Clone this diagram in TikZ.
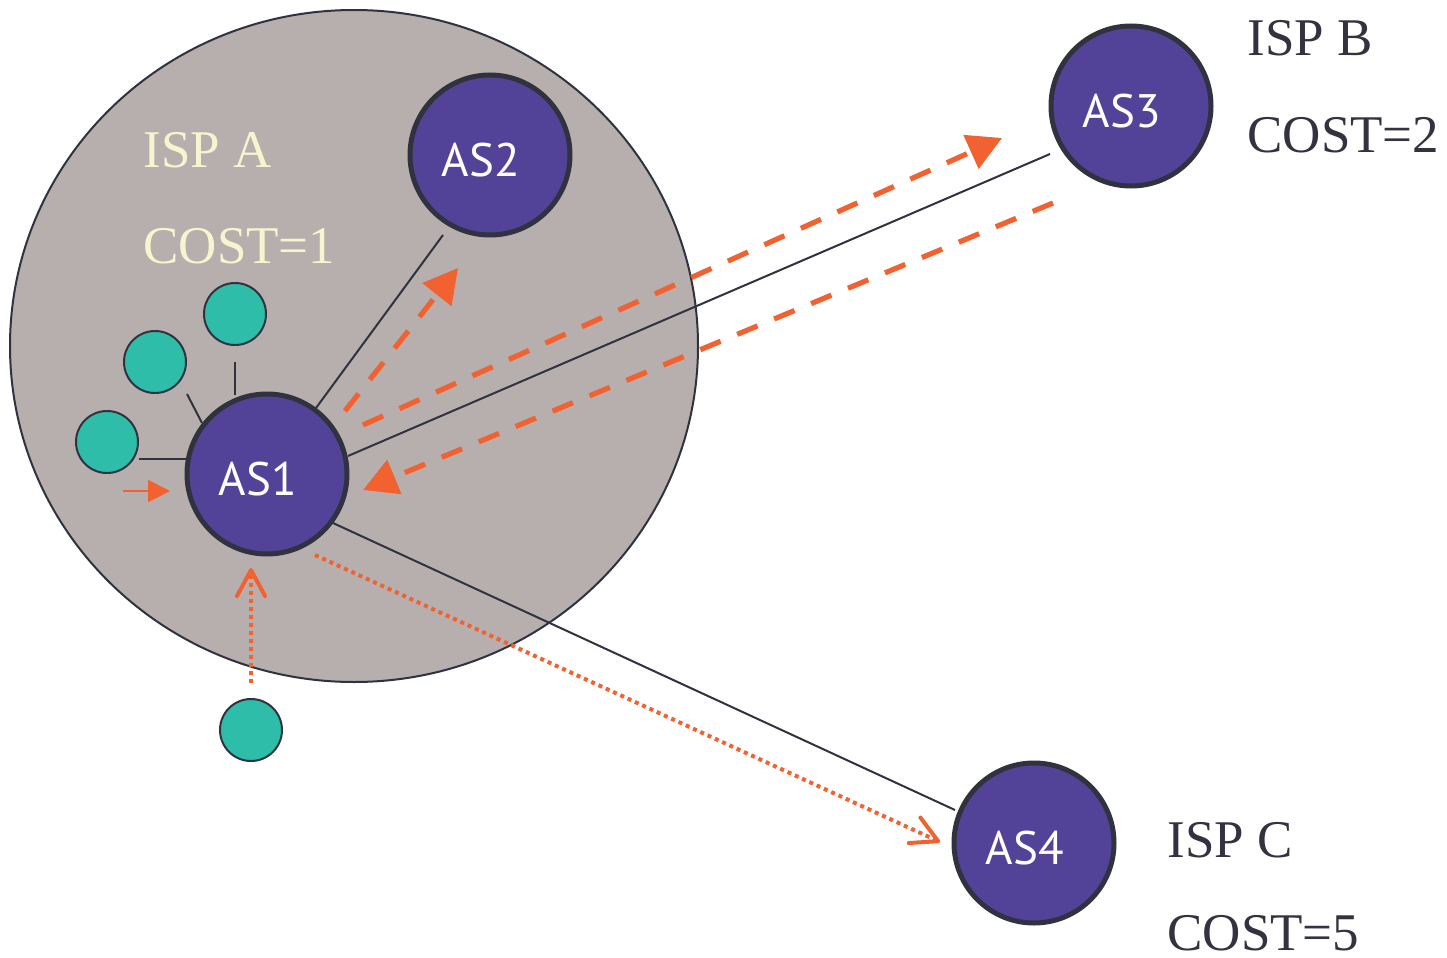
\documentclass[tikz,border=0pt]{standalone}
\usepackage{fontspec}
\setmainfont{Liberation Serif}
\newfontfamily\asfont{PT Sans}
\usetikzlibrary{arrows.meta}
\definecolor{ispgray}{HTML}{B7AFAD}
\definecolor{aspurple}{HTML}{524399}
\definecolor{asborder}{HTML}{30333F}
\definecolor{hostteal}{HTML}{2DBDA8}
\definecolor{arrorange}{HTML}{F26130}
\definecolor{creamtext}{HTML}{F5F5D0}
\definecolor{darktext}{HTML}{333340}
\begin{document}
\begin{tikzpicture}[x=0.5pt,y=-0.5pt,
  aslabel/.style={text=white,font=\asfont\fontsize{23.5}{23.5}\selectfont,xshift=-4.5pt,yshift=-2.5pt,inner sep=0pt},
  asnode/.style={circle,draw=asborder,line width=2.5pt,fill=aspurple,minimum size=80pt,inner sep=0pt,label={[aslabel]center:#1}},
  host/.style={circle,draw=asborder,line width=1pt,fill=hostteal,minimum size=31pt,inner sep=0pt},
  link/.style={draw=asborder,line width=1pt},
  dasharrow/.style={draw=arrorange,line width=2.6pt,dash pattern=on 11pt off 9pt,-{Triangle[length=17pt,width=18pt]}},
  dotarrow/.style={draw=arrorange,line width=2pt,dash pattern=on 2pt off 2pt,-{Straight Barb[length=13pt,width=14pt,round]}},
  smallarrow/.style={draw=arrorange,line width=1pt,-{Triangle[length=11pt,width=11pt]}},
  isplabel/.style={anchor=base west,font=\fontsize{26.5}{26.5}\selectfont,inner sep=0pt}
]
\useasboundingbox (0,0) rectangle (1447,958);
\fill[white] (0,0) rectangle (1447,958);

% ISP A region
\draw[draw=asborder,line width=1pt,fill=ispgray] (354,346) ellipse [x radius=172pt,y radius=168pt];

% AS nodes
\node[asnode=AS1] (AS1) at (267,474) {};
\node[asnode=AS2] (AS2) at (490,155) {};
\node[asnode=AS3] (AS3) at (1131,106) {};
\node[asnode=AS4] (AS4) at (1034,843) {};

% hosts
\node[host] (h1) at (235,314) {};
\node[host] (h2) at (155,362) {};
\node[host] (h3) at (107,442) {};
\node[host] (h4) at (251,730) {};

% link end points
\coordinate (h1a) at (235,362); \coordinate (h1b) at (235,395);
\coordinate (h2a) at (187,394); \coordinate (h2b) at (202,423);
\coordinate (h3a) at (139,459); \coordinate (h3b) at (186,459);
\coordinate (l12a) at (316,408); \coordinate (l12b) at (443,235);
\coordinate (l13a) at (348,456); \coordinate (l13b) at (1050,154);
\coordinate (l14a) at (333,523); \coordinate (l14b) at (955,810);

\draw[link] (h1a) -- (h1b);
\draw[link] (h2a) -- (h2b);
\draw[link] (h3a) -- (h3b);
\draw[link] (l12a) -- (l12b);
\draw[link] (l13a) -- (l13b);
\draw[link] (l14a) -- (l14b);

% arrows
\coordinate (a12a) at (345,411); \coordinate (a12b) at (458,268);
\coordinate (a13a) at (363,425); \coordinate (a13b) at (1002,138);
\coordinate (a31a) at (1053,203); \coordinate (a31b) at (363,490);
\coordinate (sa) at (123,491); \coordinate (sb) at (170,491);
\coordinate (d4a) at (251,683); \coordinate (d4b) at (251,568);
\coordinate (d14a) at (315,555); \coordinate (d14b) at (940,842);

\draw[dasharrow] (a12a) -- (a12b);
\draw[dasharrow] (a13a) -- (a13b);
\draw[dasharrow] (a31a) -- (a31b);
\draw[smallarrow] (sa) -- (sb);
\draw[dotarrow] (d4a) -- (d4b);
\draw[dotarrow] (d14a) -- (d14b);

% labels
\node[isplabel,text=creamtext] (ispA) at (143,167) {ISP A};
\node[isplabel,text=creamtext] (costA) at (143,263) {COST=1};
\node[isplabel,text=darktext] (ispB) at (1247,55) {ISP B};
\node[isplabel,text=darktext] (costB) at (1247,152) {COST=2};
\node[isplabel,text=darktext] (ispC) at (1167,857) {ISP C};
\node[isplabel,text=darktext] (costC) at (1167,950) {COST=5};
\end{tikzpicture}
\end{document}
